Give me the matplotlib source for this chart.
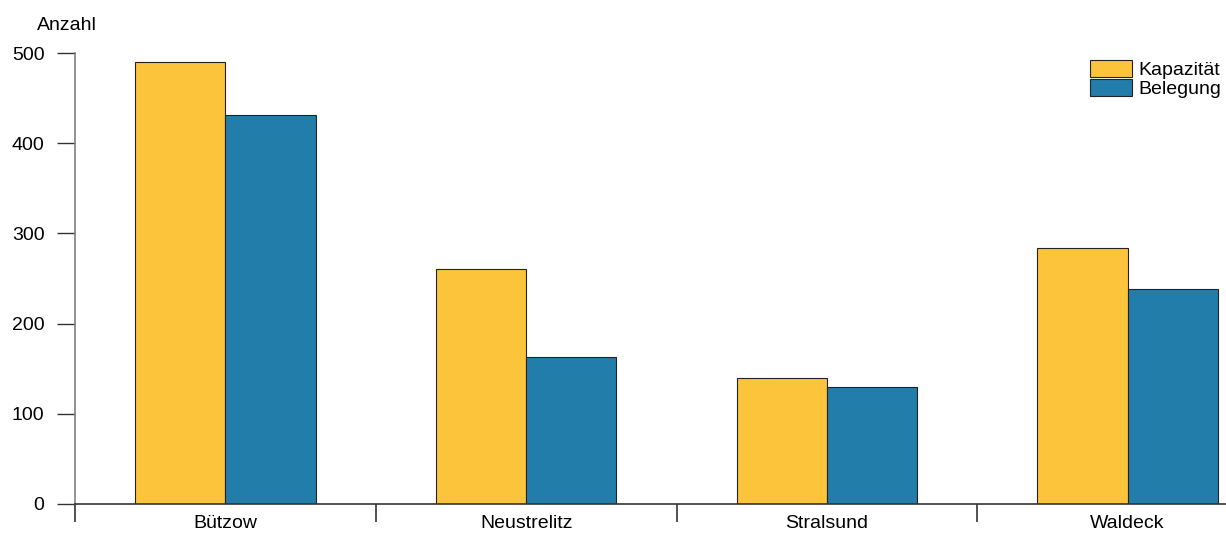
import matplotlib.pyplot as plt
import numpy as np

plt.rcParams['font.family'] = ['Liberation Sans', 'DejaVu Sans']

# Werte
orte = ['Bützow', 'Neustrelitz', 'Stralsund', 'Waldeck']
kapazitaet = [490, 261, 140, 284]
belegung = [431, 163, 130, 238]

gelb = '#FCC43A'
blau = '#227DAA'

fig = plt.figure(figsize=(12.26, 5.41), dpi=100)
# the last category runs past the right edge of the picture
ax = fig.add_axes([75 / 1226, 37 / 541, 1203 / 1226, 451 / 541])

x = np.arange(len(orte)) + 0.5
w = 0.3
ax.bar(x - w / 2, kapazitaet, w, color=gelb, edgecolor='#222222', linewidth=0.8, label='Kapazität')
ax.bar(x + w / 2, belegung, w, color=blau, edgecolor='#222222', linewidth=0.8, label='Belegung')

ax.set_xlim(0, len(orte))
ax.set_ylim(0, 500)

for s in ['top', 'right']:
    ax.spines[s].set_visible(False)
ax.spines['left'].set_color('#808080')
ax.spines['left'].set_linewidth(1.2)
ax.spines['bottom'].set_color('#333333')
ax.spines['bottom'].set_linewidth(1.2)

ax.set_yticks([0, 100, 200, 300, 400, 500])
ax.tick_params(axis='y', length=13, width=1.0, color='#333333', labelsize=14, pad=9)

# category separators below the axis, labels centred in between
ax.set_xticks(np.arange(len(orte)))
ax.set_xticklabels([''] * len(orte))
ax.set_xticks(x, minor=True)
ax.set_xticklabels(orte, minor=True)
ax.tick_params(axis='x', which='major', length=13, width=1.2, color='#333333')
ax.tick_params(axis='x', which='minor', length=0, labelsize=14, pad=8)

fig.text(37 / 1226, 1 - 30 / 541, 'Anzahl', fontsize=14, ha='left', va='baseline')

ax.legend(loc='upper right', bbox_to_anchor=(1221 / 1226, 1 - 60 / 541),
          bbox_transform=fig.transFigure, frameon=False,
          fontsize=14, handlelength=2.2, handleheight=0.95, labelspacing=0.0,
          handletextpad=0.3, borderaxespad=0.0, borderpad=0.0)

fig.savefig('out.png', dpi=100)
